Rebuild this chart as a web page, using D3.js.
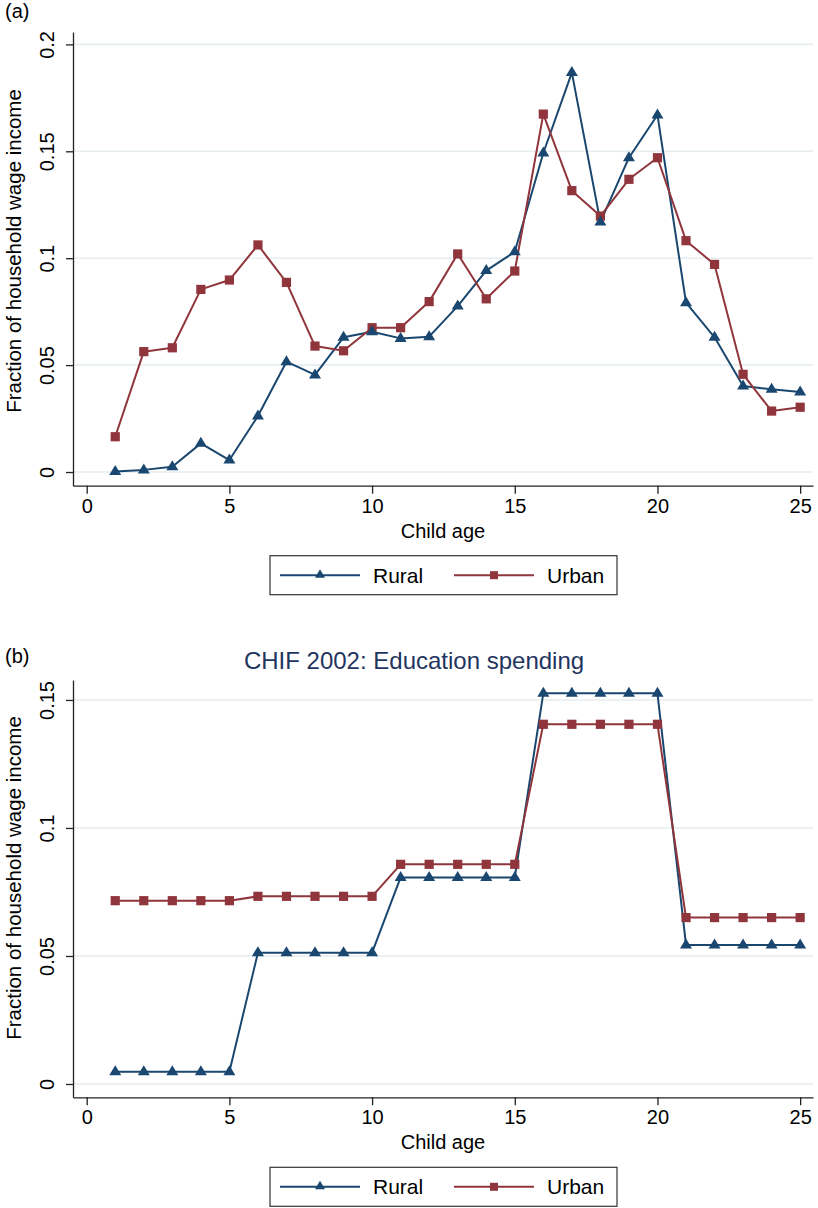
<!DOCTYPE html>
<html>
<head>
<meta charset="utf-8">
<script src="https://cdn.jsdelivr.net/npm/d3@7"></script>
<style>
  html, body { margin: 0; padding: 0; background: #fff; }
  svg { display: block; font-family: "Liberation Sans", Arial, Helvetica, sans-serif; }
</style>
</head>
<body>
<svg id="chart" width="818" height="1208"></svg>
<script>
// ---------------- DATA ----------------
const ages = [1,2,3,4,5,6,7,8,9,10,11,12,13,14,15,16,17,18,19,20,21,22,23,24,25];
const seriesNames = ["Rural", "Urban"];
const xTickValues = [0, 5, 10, 15, 20, 25];
const yTicksA = [0, 0.05, 0.1, 0.15, 0.2];
const yTicksB = [0, 0.05, 0.1, 0.15];
const yTickLabelsA = ["0", "0.05", "0.1", "0.15", "0.2"];
const yTickLabelsB = ["0", "0.05", "0.1", "0.15"];

// Panel (a): fraction of household wage income (earnings)
const ruralA = [0.0002,0.001,0.0025,0.0134,0.0056,0.0262,0.0516,0.0454,0.063,0.0656,0.0625,0.0633,0.0776,0.0942,0.103,0.1492,0.1868,0.1169,0.147,0.167,0.0792,0.063,0.0402,0.0387,0.0374];
const urbanA = [0.0165,0.0563,0.0581,0.0854,0.0898,0.1062,0.0887,0.0589,0.0567,0.0675,0.0675,0.0797,0.102,0.081,0.094,0.1674,0.1316,0.1197,0.1369,0.147,0.1082,0.0971,0.0457,0.0285,0.0303];

// Panel (b): CHIF 2002 education spending
const ruralB = [0.0048,0.0048,0.0048,0.0048,0.0048,0.0513,0.0513,0.0513,0.0513,0.0513,0.0807,0.0807,0.0807,0.0807,0.0807,0.1526,0.1526,0.1526,0.1526,0.1526,0.0543,0.0543,0.0543,0.0543,0.0543];
const urbanB = [0.0716,0.0716,0.0716,0.0716,0.0716,0.0733,0.0733,0.0733,0.0733,0.0733,0.0858,0.0858,0.0858,0.0858,0.0858,0.1405,0.1405,0.1405,0.1405,0.1405,0.065,0.065,0.065,0.065,0.065];

const titleB = "CHIF 2002: Education spending";
const yTitle = "Fraction of household wage income";
const xTitle = "Child age";

// ---------------- STYLE ----------------
const colors = { Rural: "#1a476f", Urban: "#90353b" };
const gridColor = "#e6eef1";
const axisColor = "#222";
const svg = d3.select("#chart");
svg.append("rect").attr("width", 818).attr("height", 1208).attr("fill", "#fff");

const x = d3.scaleLinear().domain([-0.48, 25.45]).range([73, 813]);

function trianglePath(s) {
  return `M0,${-6.5*s}L${6*s},${3.5*s}L${-6*s},${3.5*s}Z`;
}

function drawPanel(cfg) {
  const g = svg.append("g");
  const y = d3.scaleLinear().domain(cfg.yDomain).range(cfg.yRange);

  // panel tag
  g.append("text").attr("x", 5).attr("y", cfg.tagY).attr("font-size", 20).attr("fill", "#000").text(cfg.tag);

  if (cfg.title) {
    g.append("text").attr("x", 414).attr("y", cfg.titleY).attr("text-anchor", "middle")
      .attr("font-size", 24).attr("fill", "#1f3560").text(cfg.title);
  }

  // gridlines
  g.append("g").selectAll("line").data(cfg.yTicks).join("line")
    .attr("x1", 73).attr("x2", 813)
    .attr("y1", d => y(d)).attr("y2", d => y(d))
    .attr("stroke", gridColor).attr("stroke-width", 1.6);

  // y axis
  const yAxis = d3.axisLeft(y).tickValues(cfg.yTicks).tickSize(7).tickSizeOuter(0)
    .tickFormat((d, i) => cfg.yTickLabels[i]);
  const ya = g.append("g").attr("transform", "translate(73,0)").call(yAxis);
  ya.select(".domain").attr("stroke", axisColor).attr("stroke-width", 1.3);
  ya.selectAll(".tick line").attr("stroke", axisColor).attr("stroke-width", 1.3);
  ya.selectAll(".tick text")
    .attr("x", null).attr("dy", null)
    .attr("transform", "translate(-19,0) rotate(-90)")
    .attr("text-anchor", "middle").attr("font-size", 20)
    .attr("font-family", "Liberation Sans, Arial, sans-serif").attr("fill", "#000");

  // x axis
  const xAxis = d3.axisBottom(x).tickValues(xTickValues).tickSize(8).tickSizeOuter(0).tickFormat(d3.format("d"));
  const xa = g.append("g").attr("transform", `translate(0,${cfg.yRange[0]})`).call(xAxis);
  xa.select(".domain").attr("stroke", axisColor).attr("stroke-width", 1.3);
  xa.selectAll(".tick line").attr("stroke", axisColor).attr("stroke-width", 1.3);
  xa.selectAll(".tick text").attr("y", 27).attr("dy", null).attr("font-size", 20)
    .attr("font-family", "Liberation Sans, Arial, sans-serif").attr("fill", "#000");

  // axis titles
  g.append("text").attr("transform", `translate(21,${cfg.yTitleY}) rotate(-90)`)
    .attr("text-anchor", "middle").attr("font-size", 20.5).attr("fill", "#000").text(yTitle);
  g.append("text").attr("x", 443).attr("y", cfg.yRange[0] + 52).attr("text-anchor", "middle")
    .attr("font-size", 20).attr("fill", "#000").text(xTitle);

  // series
  const line = d3.line().x(d => x(d[0])).y(d => y(d[1]));
  const sets = [
    { name: "Rural", values: cfg.rural },
    { name: "Urban", values: cfg.urban }
  ];
  sets.forEach(s => {
    const pts = ages.map((a, i) => [a, s.values[i]]);
    g.append("path").datum(pts).attr("d", line).attr("fill", "none")
      .attr("stroke", colors[s.name]).attr("stroke-width", 2).attr("stroke-linejoin", "round");
  });
  sets.slice().reverse().forEach(s => {
    const pts = ages.map((a, i) => [a, s.values[i]]);
    const mk = g.append("g").selectAll("path").data(pts).join("path")
      .attr("transform", d => `translate(${x(d[0])},${y(d[1])})`)
      .attr("fill", colors[s.name]);
    if (s.name === "Rural") mk.attr("d", trianglePath(1));
    else mk.attr("d", "M-4.6,-4.6H4.6V4.6H-4.6Z");
  });

  // legend
  const ly = cfg.yRange[0] + 70;
  const lg = g.append("g").attr("transform", `translate(270,${ly})`);
  lg.append("rect").attr("x", 0).attr("y", 0).attr("width", 347).attr("height", 39)
    .attr("fill", "#fff").attr("stroke", "#333").attr("stroke-width", 1.2);
  const items = [
    { name: seriesNames[0], lx: 10, tx: 103 },
    { name: seriesNames[1], lx: 184, tx: 277 }
  ];
  items.forEach(it => {
    lg.append("line").attr("x1", it.lx).attr("x2", it.lx + 80).attr("y1", 19.5).attr("y2", 19.5)
      .attr("stroke", colors[it.name]).attr("stroke-width", 2);
    const m = lg.append("path").attr("transform", `translate(${it.lx + 40},19.5)`).attr("fill", colors[it.name]);
    if (it.name === "Rural") m.attr("d", "M0,-6L5,2.5L-5,2.5Z");
    else m.attr("d", "M-4,-4H4V4H-4Z");
    lg.append("text").attr("x", it.tx).attr("y", 27).attr("font-size", 21).attr("fill", "#000").text(it.name);
  });
}

drawPanel({
  tag: "(a)", tagY: 18, title: null,
  yDomain: [-0.0064, 0.2058], yRange: [485.7, 32], yTitleY: 251,
  yTicks: yTicksA, yTickLabels: yTickLabelsA,
  rural: ruralA, urban: urbanA
});

drawPanel({
  tag: "(b)", tagY: 663, title: titleB, titleY: 669,
  yDomain: [-0.0052, 0.1578], yRange: [1097.3, 680], yTitleY: 878,
  yTicks: yTicksB, yTickLabels: yTickLabelsB,
  rural: ruralB, urban: urbanB
});
</script>
</body>
</html>
